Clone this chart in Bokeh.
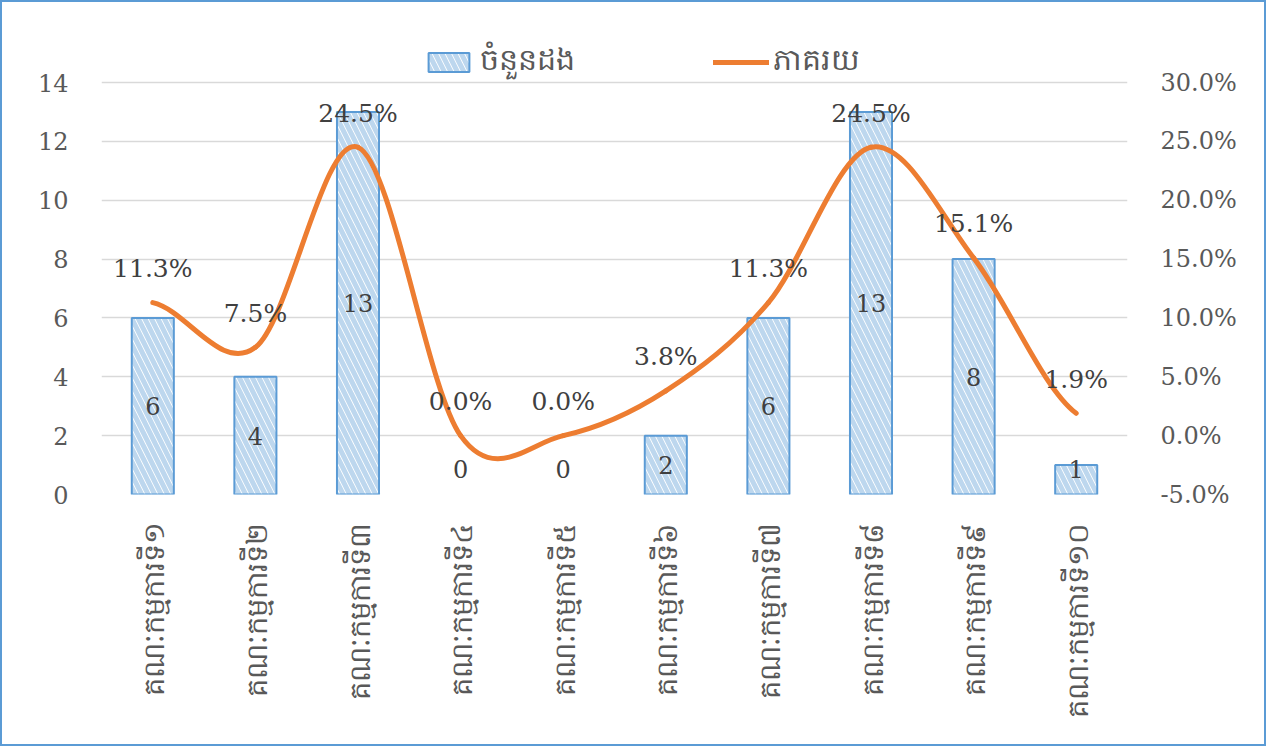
import numpy as np
from bokeh.plotting import figure
from bokeh.models import (FactorRange, Range1d, LinearAxis, FixedTicker, CDSView, BooleanFilter,
                          NumeralTickFormatter, Legend, LegendItem, ColumnDataSource)
from bokeh.core.properties import value
from bokeh.embed import file_html
from bokeh.resources import INLINE

categories = ["គណៈកម្មការទី១", "គណៈកម្មការទី២", "គណៈកម្មការទី៣", "គណៈកម្មការទី៤",
              "គណៈកម្មការទី៥", "គណៈកម្មការទី៦", "គណៈកម្មការទី៧", "គណៈកម្មការទី៨",
              "គណៈកម្មការទី៩", "គណៈកម្មការទី១០"]
counts = [6, 4, 13, 0, 0, 2, 6, 13, 8, 1]
percents = [0.113, 0.075, 0.245, 0.0, 0.0, 0.038, 0.113, 0.245, 0.151, 0.019]
left_ticks = [0, 2, 4, 6, 8, 10, 12, 14]
right_ticks = [-0.05, 0.0, 0.05, 0.10, 0.15, 0.20, 0.25, 0.30]
series_names = ["ចំនួនដង", "ភាគរយ"]

SERIF = "DejaVu Serif"
KHMER = "Noto Sans"
AXIS_COLOR = "#595959"
LABEL_COLOR = "#404040"
BAR_LINE = "#5B9BD5"
BAR_HATCH = "#BDD7EE"
LINE_COLOR = "#ED7D31"

# layout: axis area is 412px tall; frame extended above it to hold the legend
AXIS_H = 412
EXTRA_TOP = 70
left_max = 14 + EXTRA_TOP * 14 / AXIS_H
right_max = 0.30 + EXTRA_TOP * 0.35 / AXIS_H

p = figure(x_range=FactorRange(*categories), y_range=Range1d(0, left_max),
           frame_width=1026, frame_height=AXIS_H + EXTRA_TOP,
           min_border_left=99, min_border_right=137, min_border_top=10, min_border_bottom=250,
           output_backend="svg", toolbar_location=None)
p.extra_y_ranges = {"pct": Range1d(-0.05, right_max)}
p.styles = {"border": "2px solid #5B9BD5", "box-sizing": "border-box"}
p.outline_line_color = None
p.background_fill_color = "white"
p.border_fill_color = "white"

# bars
bar_src = ColumnDataSource(dict(x=categories, top=counts,
                                lab=[str(c) for c in counts],
                                ly=[max(c / 2, 0.85) for c in counts]))
nonzero = CDSView(filter=BooleanFilter([c > 0 for c in counts]))
bars = p.vbar(x="x", top="top", width=0.41, source=bar_src, view=nonzero,
              fill_color="white", line_color=BAR_LINE, line_width=2,
              hatch_pattern="\\", hatch_color=BAR_HATCH, hatch_weight=5, hatch_scale=13)
p.text(x="x", y="ly", text="lab", source=bar_src, text_align="center",
       text_baseline="middle", text_font=value(SERIF), text_font_size="24px",
       text_color=LABEL_COLOR)

# smoothed line via bezier segments (Catmull-Rom style control points)
xs = np.arange(len(percents)) + 0.5
ys = np.array(percents)
n = len(ys)
x0, y0, x1, y1, cx0, cy0, cx1, cy1 = [], [], [], [], [], [], [], []
for i in range(n - 1):
    pm = ys[i - 1] if i > 0 else ys[i]
    pn = ys[i + 2] if i + 2 < n else ys[i + 1]
    x0.append(xs[i]); y0.append(ys[i])
    x1.append(xs[i + 1]); y1.append(ys[i + 1])
    cx0.append(xs[i] + 1 / 3); cy0.append(ys[i] + (ys[i + 1] - pm) / 6)
    cx1.append(xs[i + 1] - 1 / 3); cy1.append(ys[i + 1] - (pn - ys[i]) / 6)
curve = p.bezier(x0=x0, y0=y0, x1=x1, y1=y1, cx0=cx0, cy0=cy0, cx1=cx1, cy1=cy1,
                 line_color=LINE_COLOR, line_width=5, line_cap="round", y_range_name="pct")

pct_src = ColumnDataSource(dict(x=categories, y=percents,
                                lab=[f"{v * 100:.1f}%" for v in percents]))
p.text(x="x", y="y", text="lab", source=pct_src, y_range_name="pct",
       text_align="center", text_baseline="middle", y_offset=-34,
       text_font=value(SERIF), text_font_size="25px", text_color=LABEL_COLOR)

# axes
p.yaxis.ticker = FixedTicker(ticks=left_ticks)
right_axis = LinearAxis(y_range_name="pct", ticker=FixedTicker(ticks=right_ticks),
                        formatter=NumeralTickFormatter(format="0.0%"))
p.add_layout(right_axis, "right")
for ax in [p.yaxis[0], right_axis]:
    ax.axis_line_color = None
    ax.major_tick_line_color = None
    ax.minor_tick_line_color = None
    ax.major_label_text_font = SERIF
    ax.major_label_text_font_size = "24px"
    ax.major_label_text_color = AXIS_COLOR
    ax.major_label_standoff = 27
p.xaxis.axis_line_color = None
p.xaxis.major_tick_line_color = None
p.xaxis.major_label_orientation = np.pi / 2
p.xaxis.major_label_text_font = KHMER
p.xaxis.major_label_text_font_size = "29px"
p.xaxis.major_label_text_color = AXIS_COLOR
p.xaxis.major_label_standoff = 22

p.xgrid.grid_line_color = None
p.ygrid.grid_line_color = "#D9D9D9"
p.ygrid.grid_line_width = 1.5

# legends (placed inside the extended frame area above the axis region)
lg1 = Legend(items=[LegendItem(label=series_names[0], renderers=[bars])],
             location=(322, 409), orientation="horizontal",
             glyph_width=51, glyph_height=24, label_standoff=6,
             padding=0, margin=0, border_line_color=None, background_fill_alpha=0,
             label_text_font=KHMER, label_text_font_size="30px", label_text_color=AXIS_COLOR)
lg2 = Legend(items=[LegendItem(label=series_names[1], renderers=[curve])],
             location=(612, 409), orientation="horizontal",
             glyph_width=56, glyph_height=24, label_standoff=4,
             padding=0, margin=0, border_line_color=None, background_fill_alpha=0,
             label_text_font=KHMER, label_text_font_size="30px", label_text_color=AXIS_COLOR)
p.add_layout(lg1, "center")
p.add_layout(lg2, "center")

open("out.html", "w").write(file_html(p, INLINE))
